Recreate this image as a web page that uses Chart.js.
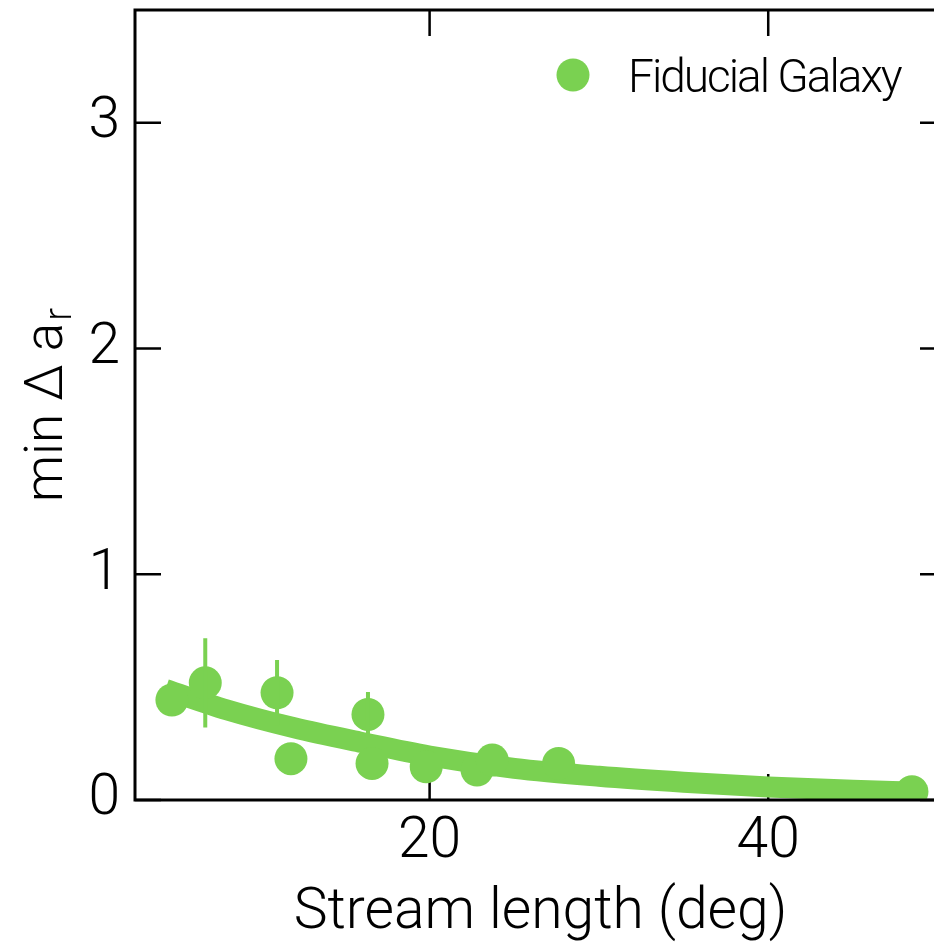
<!DOCTYPE html>
<html>
<head>
<meta charset="utf-8">
<script src="https://cdn.jsdelivr.net/npm/chart.js@4.4.1/dist/chart.umd.min.js"></script>
<style>
  html, body { margin: 0; padding: 0; overflow: hidden; background: #fff; width: 934px; height: 949px; }
  canvas { display: block; }
</style>
</head>
<body>
<canvas id="c" width="970" height="949" style="width:970px;height:949px"></canvas>
<script>
// ---- data ----
const pointX   = [4.78, 6.75, 10.99, 11.81, 16.36, 16.6, 19.8, 22.8, 23.7, 27.62, 48.49];
const pointY   = [0.443, 0.519, 0.475, 0.183, 0.379, 0.162, 0.147, 0.133, 0.177, 0.162, 0.037];
const pointErr = [0, 0.198, 0.145, 0, 0.10, 0, 0, 0, 0, 0, 0];
const fitX = [4.4, 8, 12, 16, 20, 25, 30, 35, 40, 45, 48.5];
const fitY = [0.49, 0.40, 0.32, 0.255, 0.195, 0.14, 0.105, 0.079, 0.058, 0.043, 0.036];
const xTicks = [20, 40];
const yTicks = [0, 1, 2, 3];
const legendLabel = 'Fiducial Galaxy';
const xTitle = 'Stream length (deg)';
const yTitleMain = 'min \u0394 a';
const yTitleSub = 'r';

const GREEN = '#7ad151';
const FONT = 'Roboto, "Liberation Sans", sans-serif';
const W = 300;

const decor = {
  id: 'decor',
  beforeDatasetsDraw(chart) {
    const { ctx, chartArea: a, scales: { x, y } } = chart;
    const L = 26;
    ctx.save();
    ctx.strokeStyle = '#000';
    ctx.lineWidth = 2.5;
    ctx.beginPath();
    xTicks.forEach(v => {
      const px = x.getPixelForValue(v);
      ctx.moveTo(px, a.bottom); ctx.lineTo(px, a.bottom - L);
      ctx.moveTo(px, a.top); ctx.lineTo(px, a.top + L);
    });
    yTicks.forEach(v => {
      const py = y.getPixelForValue(v);
      ctx.moveTo(a.left, py); ctx.lineTo(a.left + L, py);
      ctx.moveTo(a.right, py); ctx.lineTo(a.right - L, py);
    });
    ctx.stroke();
    ctx.restore();
  },
  afterDatasetsDraw(chart) {
    const { ctx, chartArea: a, scales: { x, y } } = chart;
    // error bars
    ctx.save();
    ctx.beginPath();
    ctx.rect(a.left, a.top, a.right - a.left, a.bottom - a.top);
    ctx.clip();
    ctx.strokeStyle = GREEN;
    ctx.lineWidth = 4;
    ctx.beginPath();
    pointX.forEach((xv, i) => {
      const e = pointErr[i];
      if (!e) return;
      const px = x.getPixelForValue(xv);
      ctx.moveTo(px, y.getPixelForValue(pointY[i] - e));
      ctx.lineTo(px, y.getPixelForValue(pointY[i] + e));
    });
    ctx.stroke();
    ctx.restore();
    // frame
    ctx.save();
    ctx.strokeStyle = '#000';
    ctx.lineWidth = 3;
    ctx.strokeRect(a.left, a.top, a.right - a.left, a.bottom - a.top);
    ctx.restore();
  },
  afterDraw(chart) {
    const { ctx, chartArea: a } = chart;
    // y-axis title with subscript
    ctx.save();
    const mainFont = W + ' 53px ' + FONT;
    const subFont = W + ' 38px ' + FONT;
    ctx.font = mainFont;
    const w1 = ctx.measureText(yTitleMain).width;
    ctx.font = subFont;
    const w2 = ctx.measureText(yTitleSub).width;
    const total = w1 + w2 + 2;
    ctx.translate(62, 405);
    ctx.rotate(-Math.PI / 2);
    ctx.fillStyle = '#000';
    ctx.textBaseline = 'alphabetic';
    ctx.textAlign = 'left';
    ctx.font = mainFont;
    ctx.fillText(yTitleMain, -total / 2, 0);
    ctx.font = subFont;
    ctx.fillText(yTitleSub, -total / 2 + w1 + 2, 9);
    ctx.restore();
    // legend
    ctx.save();
    ctx.fillStyle = GREEN;
    ctx.beginPath();
    ctx.arc(573, 75, 16.5, 0, Math.PI * 2);
    ctx.fill();
    ctx.fillStyle = '#000';
    ctx.font = W + ' 46px ' + FONT;
    if ('letterSpacing' in ctx) ctx.letterSpacing = '-2px';
    ctx.textBaseline = 'alphabetic';
    ctx.textAlign = 'left';
    ctx.fillText(legendLabel, 628, 92);
    ctx.restore();
  }
};

new Chart(document.getElementById('c'), {
  type: 'scatter',
  data: {
    datasets: [
      {
        type: 'scatter',
        label: legendLabel,
        data: pointX.map((v, i) => ({ x: v, y: pointY[i] })),
        backgroundColor: GREEN,
        borderWidth: 0,
        pointRadius: 16.5,
        pointHoverRadius: 16.5,
        clip: 0,
        order: 1
      },
      {
        type: 'line',
        label: 'fit',
        data: fitX.map((v, i) => ({ x: v, y: fitY[i] })),
        borderColor: GREEN,
        borderWidth: 21,
        borderCapStyle: 'butt',
        pointRadius: 0,
        fill: false,
        cubicInterpolationMode: 'monotone',
        clip: 0,
        order: 2
      }
    ]
  },
  options: {
    responsive: false,
    devicePixelRatio: 1,
    animation: false,
    events: [],
    layout: { autoPadding: false, padding: { top: 10, right: 24, left: 0, bottom: 0 } },
    plugins: { legend: { display: false }, tooltip: { enabled: false } },
    scales: {
      x: {
        type: 'linear',
        position: 'bottom',
        min: 2.6,
        max: 50.5,
        afterBuildTicks: s => { s.ticks = xTicks.map(v => ({ value: v })); },
        afterFit: s => { s.height = 149; s.paddingLeft = 0; s.paddingRight = 0; },
        grid: { display: false, drawTicks: false },
        border: { display: false },
        ticks: { autoSkip: false, maxRotation: 0, color: '#000', font: { family: FONT, size: 57, weight: W }, padding: 9 },
        title: { display: true, text: xTitle, color: '#000', font: { family: FONT, size: 57, weight: W }, padding: { top: 0, bottom: 1 } }
      },
      y: {
        type: 'linear',
        min: 0,
        max: 3.5,
        afterBuildTicks: s => { s.ticks = yTicks.map(v => ({ value: v })); },
        afterFit: s => { s.width = 135; s.paddingTop = 0; s.paddingBottom = 0; },
        grid: { display: false, drawTicks: false },
        border: { display: false },
        ticks: { color: '#000', font: { family: FONT, size: 57, weight: W }, padding: 15 }
      }
    }
  },
  plugins: [decor]
});
</script>
</body>
</html>
